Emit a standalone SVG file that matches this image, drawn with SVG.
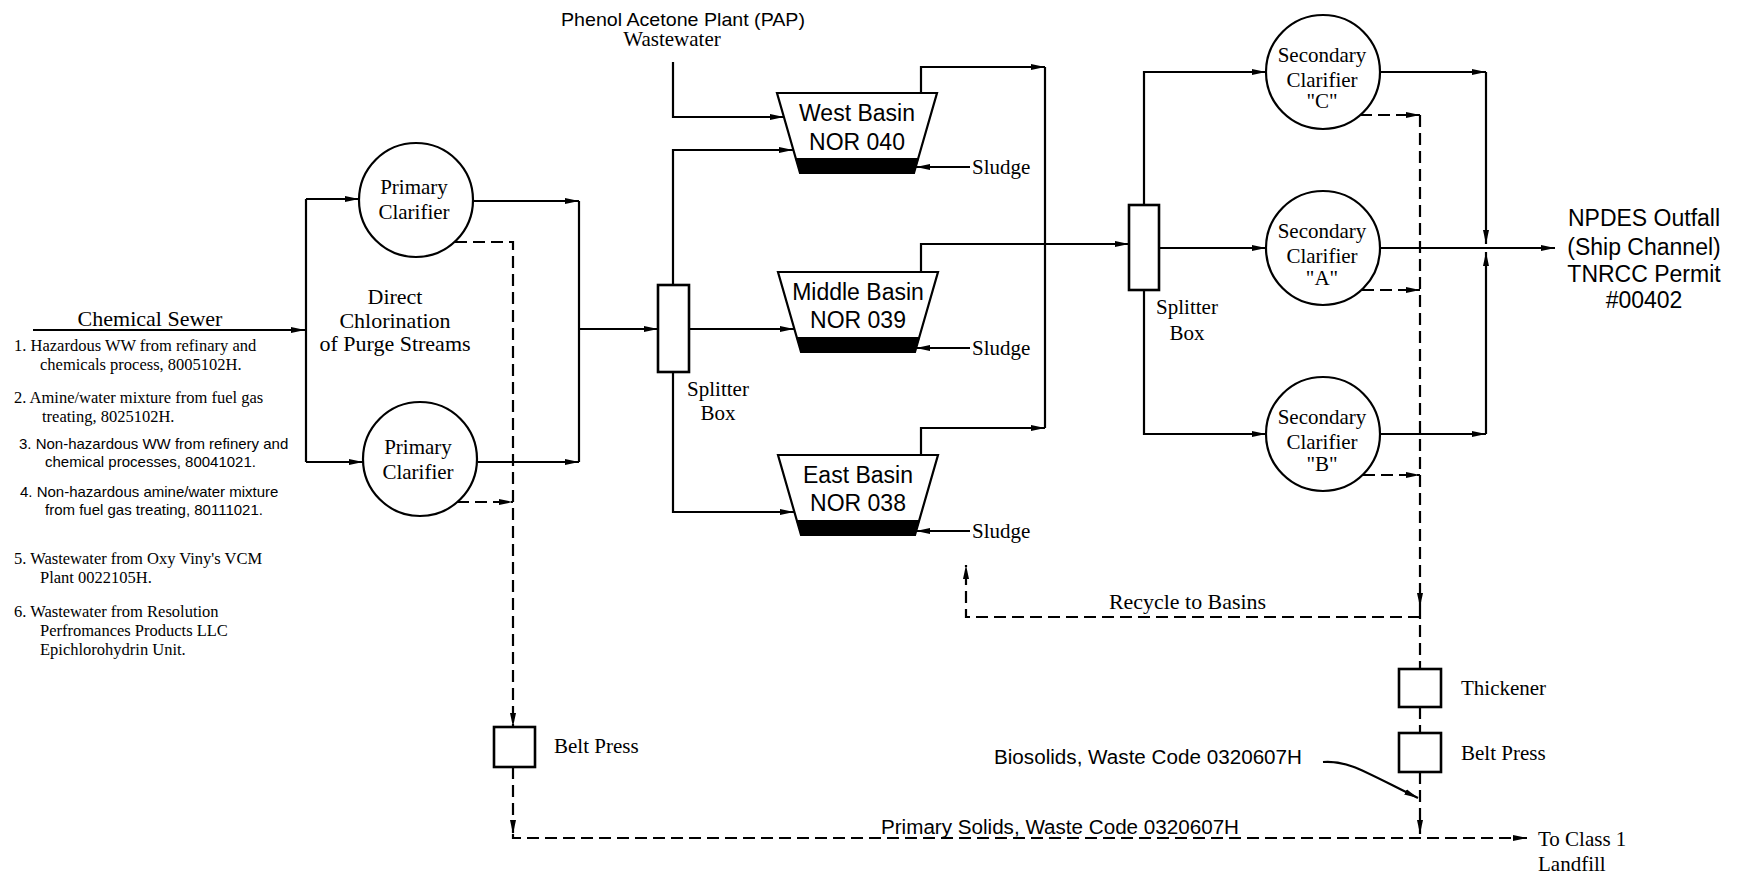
<svg xmlns="http://www.w3.org/2000/svg" width="1743" height="877" viewBox="0 0 1743 877">
<style>
.ln{stroke:#000;stroke-width:2.2;fill:none}
.dl{stroke:#000;stroke-width:2.2;fill:none;stroke-dasharray:12 6}
.nd{fill:#fff;stroke:#000;stroke-width:2.2}
.bx{fill:#fff;stroke:#000;stroke-width:2.6}
.band{fill:#000}
.sf{font-family:"Liberation Serif","Times New Roman",serif;fill:#000}
.ss{font-family:"Liberation Sans",Arial,sans-serif;fill:#000}
.c{text-anchor:middle}
</style>
<defs>
<marker id="ah" markerWidth="14" markerHeight="8" refX="14" refY="4" orient="auto" markerUnits="userSpaceOnUse"><path d="M0,1 L14,4 L0,7 z" fill="#000"/></marker>
</defs>
<rect width="1743" height="877" fill="#fff"/>

<g id="connectors">
<path class="ln" d="M33,330 H305" marker-end="url(#ah)"/>
<path class="ln" d="M306,199 V462"/>
<path class="ln" d="M306,199 H359" marker-end="url(#ah)"/>
<path class="ln" d="M306,462 H363" marker-end="url(#ah)"/>
<path class="ln" d="M473,201 H579" marker-end="url(#ah)"/>
<path class="ln" d="M478,462 H579" marker-end="url(#ah)"/>
<path class="ln" d="M579,201 V462"/>
<path class="ln" d="M579,329 H658" marker-end="url(#ah)"/>
<path class="ln" d="M673,62 V117 H784" marker-end="url(#ah)"/>
<path class="ln" d="M673,285 V150 H793" marker-end="url(#ah)"/>
<path class="ln" d="M689,329 H794" marker-end="url(#ah)"/>
<path class="ln" d="M673,372 V512 H794" marker-end="url(#ah)"/>
<path class="ln" d="M921,93 V67 H1045" marker-end="url(#ah)"/>
<path class="ln" d="M921,272 V244 H1129" marker-end="url(#ah)"/>
<path class="ln" d="M921,455 V428 H1045" marker-end="url(#ah)"/>
<path class="ln" d="M1045,67 V428"/>
<path class="ln" d="M970,167 H916" marker-end="url(#ah)"/>
<path class="ln" d="M970,348 H916" marker-end="url(#ah)"/>
<path class="ln" d="M970,531 H916" marker-end="url(#ah)"/>
<path class="ln" d="M1144,205 V72 H1266" marker-end="url(#ah)"/>
<path class="ln" d="M1159,248 H1266" marker-end="url(#ah)"/>
<path class="ln" d="M1144,290 V434 H1266" marker-end="url(#ah)"/>
<path class="ln" d="M1380,72 H1486" marker-end="url(#ah)"/>
<path class="ln" d="M1380,434 H1486" marker-end="url(#ah)"/>
<path class="ln" d="M1486,72 V244" marker-end="url(#ah)"/>
<path class="ln" d="M1486,434 V252" marker-end="url(#ah)"/>
<path class="ln" d="M1380,248 H1555" marker-end="url(#ah)"/>
<path class="dl" d="M455,242 H513 V727" marker-end="url(#ah)"/>
<path class="dl" d="M457,502 H513" marker-end="url(#ah)"/>
<path class="dl" d="M513,767 V834" marker-end="url(#ah)"/>
<path class="dl" d="M513,834 V838 H1527" marker-end="url(#ah)"/>
<path class="dl" d="M1360,115 H1420" marker-end="url(#ah)"/>
<path class="dl" d="M1362,290 H1420" marker-end="url(#ah)"/>
<path class="dl" d="M1363,475 H1420" marker-end="url(#ah)"/>
<path class="dl" d="M1420,115 V607" marker-end="url(#ah)"/>
<path class="dl" d="M1420,607 V669"/>
<path class="dl" d="M1420,617 H966 V565" marker-end="url(#ah)"/>
<path class="dl" d="M1420,707 V733"/>
<path class="dl" d="M1420,772 V834" marker-end="url(#ah)"/>
<path class="ln" d="M1323,762 C1348,760 1365,772 1418,798" marker-end="url(#ah)"/>
</g>

<g id="chemical-sewer">
<text class="sf c" x="150" y="326" font-size="22">Chemical Sewer</text>
<g class="sf" font-size="16.5">
<text x="14" y="351">1. Hazardous WW from refinary and</text>
<text x="40" y="370">chemicals process, 8005102H.</text>
<text x="14" y="403">2. Amine/water mixture from fuel gas</text>
<text x="42" y="422">treating, 8025102H.</text>
</g>
<g class="ss" font-size="15">
<text x="19" y="449">3. Non-hazardous WW from refinery and</text>
<text x="45" y="467">chemical processes, 80041021.</text>
<text x="20" y="497">4. Non-hazardous amine/water mixture</text>
<text x="45" y="515">from fuel gas treating, 80111021.</text>
</g>
<g class="sf" font-size="16.5">
<text x="14" y="564">5. Wastewater from Oxy Viny's VCM</text>
<text x="40" y="583">Plant 0022105H.</text>
<text x="14" y="617">6. Wastewater from Resolution</text>
<text x="40" y="636">Perfromances Products LLC</text>
<text x="40" y="655">Epichlorohydrin Unit.</text>
</g>
</g>

<g id="primary-clarifier-1">
<circle class="nd" cx="416" cy="200" r="57"/>
<text class="sf c" x="414" y="194" font-size="21">Primary</text>
<text class="sf c" x="414" y="219" font-size="21">Clarifier</text>
</g>
<g id="primary-clarifier-2">
<circle class="nd" cx="420" cy="459" r="57"/>
<text class="sf c" x="418" y="454" font-size="21">Primary</text>
<text class="sf c" x="418" y="479" font-size="21">Clarifier</text>
</g>
<g id="direct-chlorination">
<text class="sf c" x="395" y="304" font-size="22">Direct</text>
<text class="sf c" x="395" y="328" font-size="22">Chlorination</text>
<text class="sf c" x="395" y="351" font-size="22">of Purge Streams</text>
</g>

<g id="belt-press-1">
<rect class="bx" x="494" y="727" width="41" height="40"/>
<text class="sf" x="554" y="753" font-size="21">Belt Press</text>
</g>

<g id="pap">
<text class="ss c" x="683" y="26" font-size="19" textLength="244" lengthAdjust="spacingAndGlyphs">Phenol Acetone Plant (PAP)</text>
<text class="sf c" x="672" y="46" font-size="21">Wastewater</text>
</g>

<g id="splitter-box-1">
<rect class="bx" x="658" y="285" width="31" height="87"/>
<text class="sf c" x="718" y="396" font-size="21">Splitter</text>
<text class="sf c" x="718" y="420" font-size="21">Box</text>
</g>

<g id="west-basin">
<polygon class="nd" points="777,93 937,93 914,173 800,173"/>
<polygon class="band" points="795,158 919,158 914,173 800,173"/>
<text class="ss c" x="857" y="121" font-size="23">West Basin</text>
<text class="ss c" x="857" y="150" font-size="23">NOR 040</text>
<text class="sf" x="972" y="174" font-size="21">Sludge</text>
</g>
<g id="middle-basin">
<polygon class="nd" points="778,272 938,272 915,352 801,352"/>
<polygon class="band" points="796,337 920,337 915,352 801,352"/>
<text class="ss c" x="858" y="300" font-size="23">Middle Basin</text>
<text class="ss c" x="858" y="328" font-size="23">NOR 039</text>
<text class="sf" x="972" y="355" font-size="21">Sludge</text>
</g>
<g id="east-basin">
<polygon class="nd" points="778,455 938,455 915,535 801,535"/>
<polygon class="band" points="796,520 920,520 915,535 801,535"/>
<text class="ss c" x="858" y="483" font-size="23">East Basin</text>
<text class="ss c" x="858" y="511" font-size="23">NOR 038</text>
<text class="sf" x="972" y="538" font-size="21">Sludge</text>
</g>

<g id="splitter-box-2">
<rect class="bx" x="1129" y="205" width="30" height="85"/>
<text class="sf c" x="1187" y="314" font-size="21">Splitter</text>
<text class="sf c" x="1187" y="340" font-size="21">Box</text>
</g>

<g id="secondary-clarifier-c">
<circle class="nd" cx="1323" cy="72" r="57"/>
<text class="sf c" x="1322" y="62" font-size="21">Secondary</text>
<text class="sf c" x="1322" y="87" font-size="21">Clarifier</text>
<text class="sf c" x="1322" y="108" font-size="21">"C"</text>
</g>
<g id="secondary-clarifier-a">
<circle class="nd" cx="1323" cy="248" r="57"/>
<text class="sf c" x="1322" y="238" font-size="21">Secondary</text>
<text class="sf c" x="1322" y="263" font-size="21">Clarifier</text>
<text class="sf c" x="1322" y="285" font-size="21">"A"</text>
</g>
<g id="secondary-clarifier-b">
<circle class="nd" cx="1323" cy="434" r="57"/>
<text class="sf c" x="1322" y="424" font-size="21">Secondary</text>
<text class="sf c" x="1322" y="449" font-size="21">Clarifier</text>
<text class="sf c" x="1322" y="471" font-size="21">"B"</text>
</g>

<g id="npdes-outfall">
<text class="ss c" x="1644" y="226" font-size="23">NPDES Outfall</text>
<text class="ss c" x="1644" y="255" font-size="23">(Ship Channel)</text>
<text class="ss c" x="1644" y="282" font-size="23">TNRCC Permit</text>
<text class="ss c" x="1644" y="308" font-size="23">#00402</text>
</g>

<g id="recycle-label">
<text class="sf" x="1109" y="609" font-size="21" textLength="157" lengthAdjust="spacingAndGlyphs">Recycle to Basins</text>
</g>

<g id="thickener">
<rect class="bx" x="1399" y="669" width="42" height="38"/>
<text class="sf" x="1461" y="695" font-size="21">Thickener</text>
</g>
<g id="belt-press-2">
<rect class="bx" x="1399" y="733" width="42" height="39"/>
<text class="sf" x="1461" y="760" font-size="21">Belt Press</text>
</g>

<g id="biosolids-label">
<text class="ss" x="994" y="764" font-size="20" textLength="308" lengthAdjust="spacingAndGlyphs">Biosolids, Waste Code 0320607H</text>
</g>
<g id="primary-solids-label">
<text class="ss" x="881" y="834" font-size="20" textLength="358" lengthAdjust="spacingAndGlyphs">Primary Solids, Waste Code 0320607H</text>
</g>
<g id="landfill">
<text class="sf" x="1538" y="846" font-size="21">To Class 1</text>
<text class="sf" x="1538" y="871" font-size="21">Landfill</text>
</g>
</svg>
